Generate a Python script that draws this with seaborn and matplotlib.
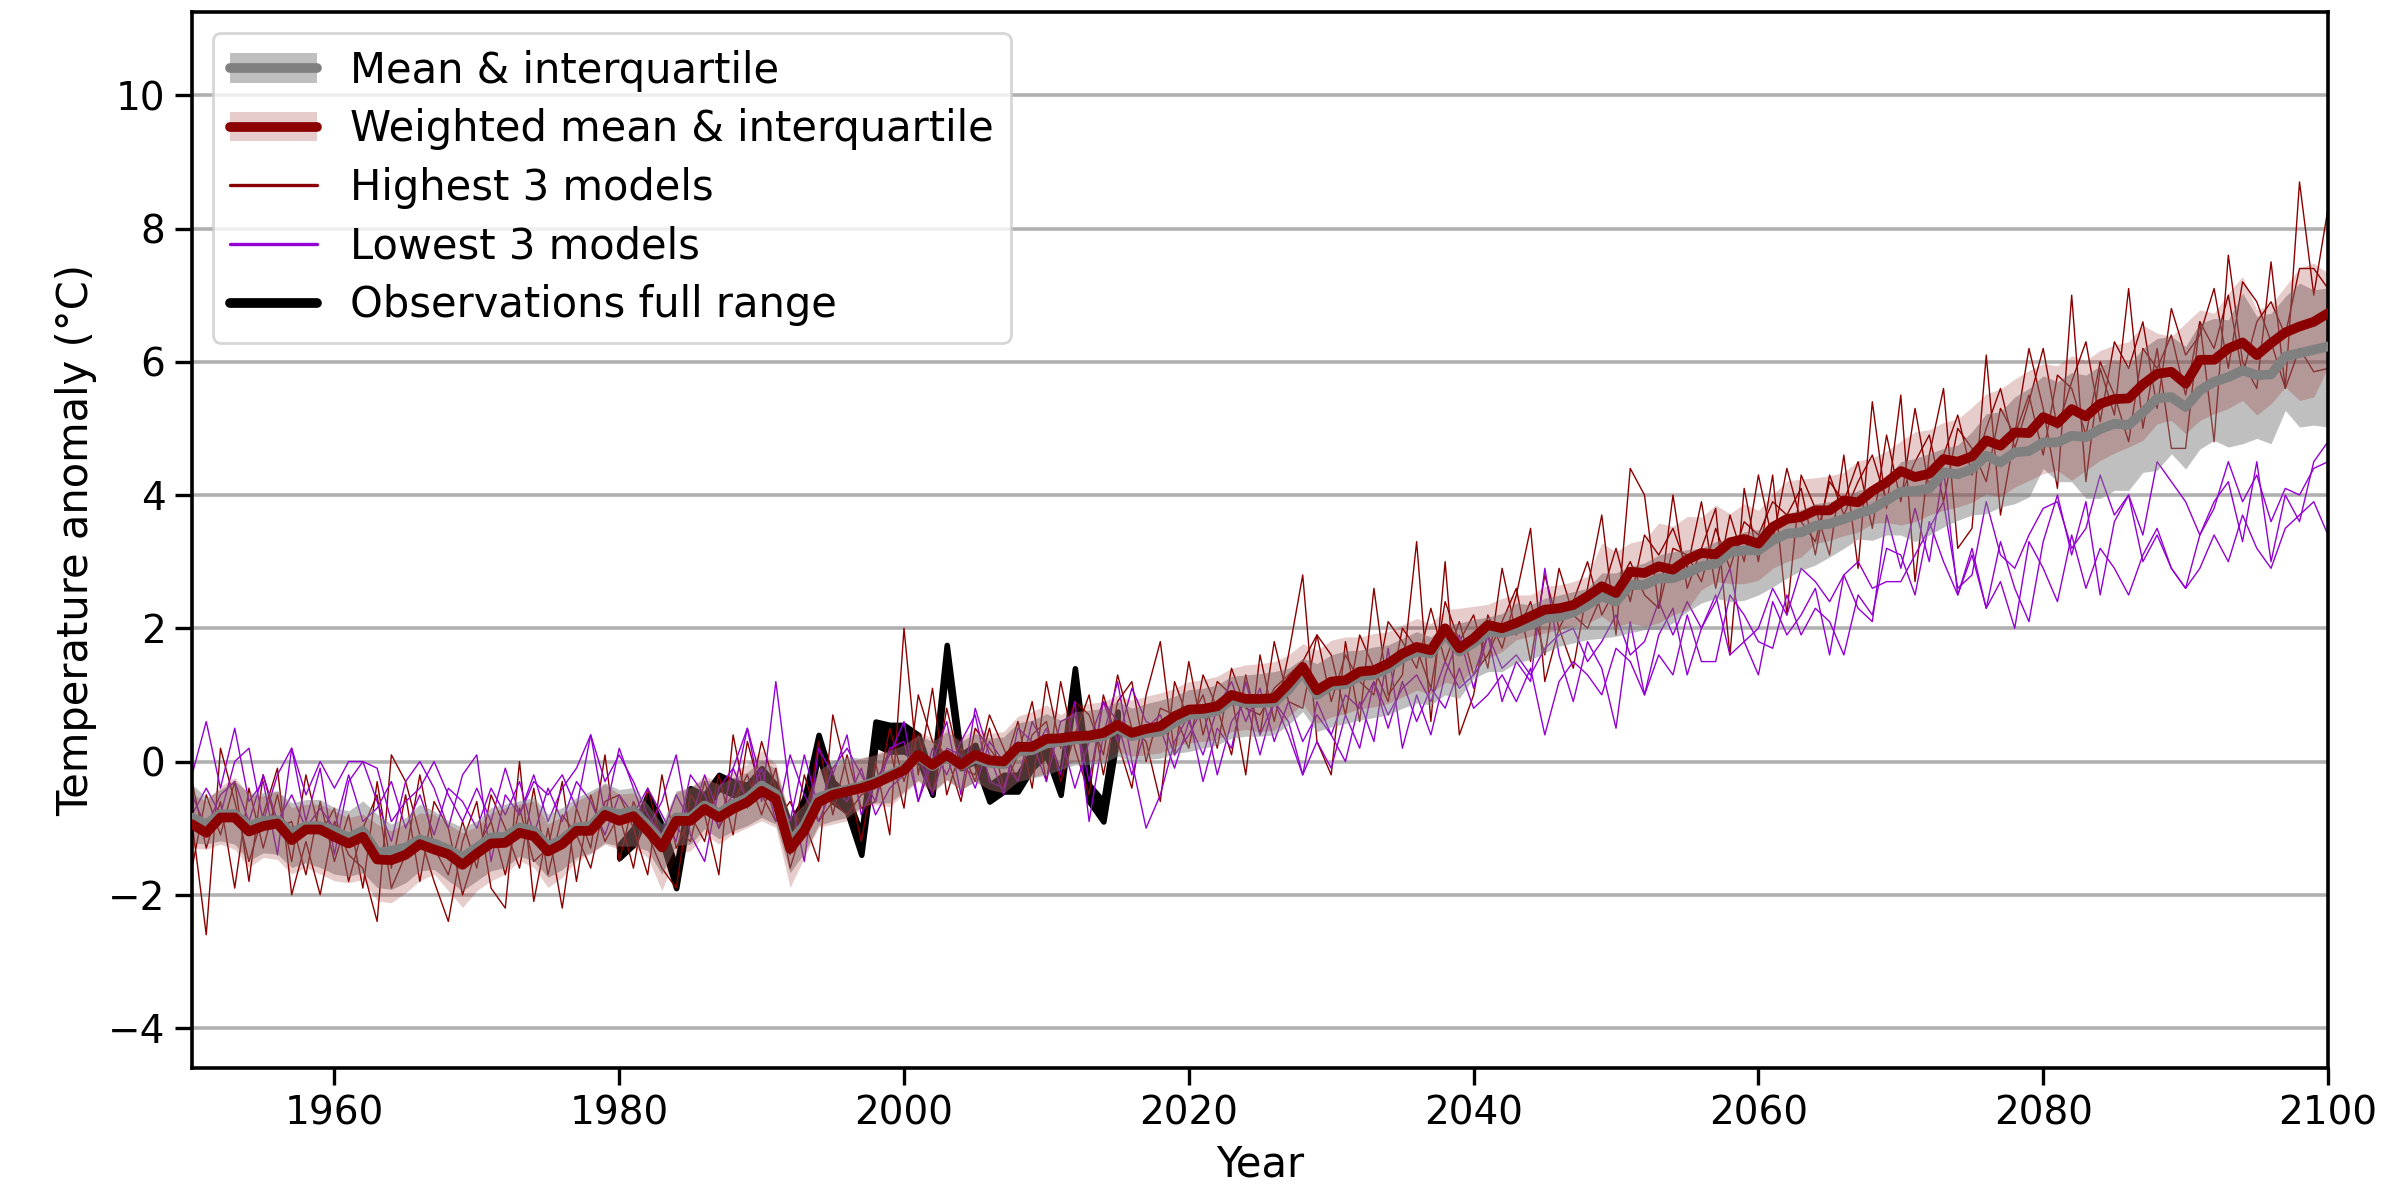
import numpy as np
import matplotlib
matplotlib.use("Agg")
import matplotlib.pyplot as plt
import seaborn as sns
from matplotlib.lines import Line2D
from matplotlib.patches import Patch

# =========================
# Data
# =========================
years = np.arange(1950, 2101)
obs_years = np.arange(1980, 2016)

# weighted multi-model mean and its interquartile range
wmean = [
    -0.94, -1.07, -0.84, -0.84, -1.05, -0.97, -0.93, -1.18, -1.02, -1.02,
    -1.13, -1.23, -1.13, -1.47, -1.48, -1.40, -1.24, -1.32, -1.39, -1.55,
    -1.38, -1.23, -1.22, -1.07, -1.12, -1.35, -1.24, -1.04, -1.04, -0.80,
    -0.89, -0.82, -1.04, -1.29, -0.89, -0.89, -0.71, -0.84, -0.71, -0.61,
    -0.44, -0.56, -1.31, -1.04, -0.61, -0.50, -0.45, -0.40, -0.33, -0.23,
    -0.13, 0.10, -0.05, 0.10, -0.05, 0.10, 0.02, 0.00, 0.22, 0.22,
    0.34, 0.35, 0.38, 0.39, 0.43, 0.55, 0.43, 0.49, 0.53, 0.68,
    0.78, 0.79, 0.83, 1.00, 0.94, 0.94, 0.95, 1.17, 1.42, 1.07,
    1.20, 1.22, 1.35, 1.37, 1.47, 1.62, 1.72, 1.67, 2.00, 1.70,
    1.85, 2.05, 2.00, 2.08, 2.18, 2.28, 2.30, 2.35, 2.48, 2.63,
    2.53, 2.85, 2.83, 2.93, 2.88, 3.03, 3.13, 3.11, 3.29, 3.34,
    3.27, 3.52, 3.64, 3.67, 3.77, 3.77, 3.92, 3.89, 4.06, 4.19,
    4.36, 4.27, 4.32, 4.54, 4.50, 4.58, 4.82, 4.74, 4.94, 4.93,
    5.17, 5.08, 5.29, 5.18, 5.37, 5.44, 5.45, 5.66, 5.82, 5.85,
    5.67, 6.03, 6.03, 6.20, 6.29, 6.10, 6.28, 6.44, 6.53, 6.60,
    6.73,
]
wq75 = [
    -0.49, -0.59, -0.37, -0.24, -0.49, -0.52, -0.44, -0.69, -0.64, -0.64,
    -0.74, -0.84, -0.79, -0.94, -1.04, -0.92, -0.77, -0.79, -0.94, -1.07,
    -0.97, -0.77, -0.69, -0.64, -0.59, -0.94, -0.82, -0.59, -0.49, -0.34,
    -0.49, -0.47, -0.69, -1.04, -0.46, -0.39, -0.21, -0.31, -0.16, -0.04,
    0.17, -0.04, -0.84, -0.59, -0.11, -0.06, -0.01, 0.05, 0.12, 0.20,
    0.28, 0.45, 0.35, 0.50, 0.35, 0.50, 0.42, 0.45, 0.68, 0.75,
    0.85, 0.70, 0.85, 0.87, 0.90, 1.00, 0.92, 0.98, 1.03, 1.10,
    1.20, 1.23, 1.28, 1.40, 1.45, 1.47, 1.50, 1.60, 1.77, 1.67,
    1.82, 1.87, 1.87, 1.92, 1.95, 2.05, 2.15, 2.07, 2.28, 2.30,
    2.33, 2.36, 2.45, 2.50, 2.50, 2.63, 2.65, 2.70, 2.78, 3.28,
    3.15, 3.28, 3.33, 3.58, 3.53, 3.68, 3.67, 3.85, 3.72, 3.87,
    3.77, 4.01, 4.21, 4.24, 4.26, 4.29, 4.34, 4.51, 4.56, 4.66,
    4.81, 4.95, 4.98, 5.09, 5.14, 5.32, 5.52, 5.59, 5.74, 5.87,
    5.97, 5.94, 6.09, 6.02, 6.17, 6.25, 6.30, 6.55, 6.43, 6.38,
    6.58, 6.78, 6.73, 7.03, 7.28, 6.78, 6.86, 7.13, 7.41, 7.48,
    7.33,
]
wq25 = [
    -1.29, -1.32, -1.24, -1.32, -1.59, -1.44, -1.47, -1.69, -1.59, -1.69,
    -1.79, -1.82, -1.77, -2.09, -2.12, -1.97, -1.79, -1.69, -1.94, -2.19,
    -1.94, -1.79, -1.69, -1.49, -1.59, -1.89, -1.74, -1.49, -1.39, -1.24,
    -1.32, -1.29, -1.44, -1.94, -1.39, -1.34, -1.09, -1.24, -1.09, -0.99,
    -0.89, -0.99, -1.89, -1.44, -0.99, -0.94, -0.89, -0.70, -0.65, -0.68,
    -0.48, -0.30, -0.48, -0.28, -0.43, -0.30, -0.43, -0.48, -0.30, -0.23,
    -0.18, -0.08, 0.00, 0.00, 0.03, 0.15, 0.08, 0.10, 0.13, 0.23,
    0.28, 0.30, 0.33, 0.45, 0.48, 0.45, 0.47, 0.67, 0.87, 0.57,
    0.67, 0.72, 0.79, 0.82, 0.87, 0.97, 1.07, 1.02, 1.19, 1.14,
    1.40, 1.55, 1.65, 1.83, 1.88, 1.93, 1.98, 2.03, 2.08, 2.18,
    2.03, 2.08, 2.03, 2.08, 2.20, 2.28, 2.58, 2.70, 2.67, 2.67,
    2.72, 2.90, 3.00, 3.07, 3.27, 3.32, 3.39, 3.44, 3.57, 3.59,
    3.55, 3.60, 3.70, 3.77, 3.82, 3.89, 4.02, 3.97, 4.12, 4.22,
    4.32, 4.37, 4.22, 4.37, 4.52, 4.63, 4.72, 4.82, 5.07, 5.12,
    4.92, 5.12, 5.22, 5.30, 5.42, 5.20, 5.37, 5.62, 5.42, 5.47,
    5.92,
]

# unweighted mean and its interquartile range
mean = [
    -0.84, -0.94, -0.79, -0.79, -0.97, -0.89, -0.88, -1.07, -0.97, -0.97,
    -1.04, -1.14, -1.04, -1.37, -1.34, -1.29, -1.17, -1.23, -1.32, -1.44,
    -1.29, -1.14, -1.13, -0.99, -1.04, -1.27, -1.17, -0.99, -0.97, -0.74,
    -0.79, -0.74, -0.96, -1.21, -0.84, -0.84, -0.66, -0.78, -0.64, -0.55,
    -0.36, -0.49, -1.21, -0.96, -0.54, -0.47, -0.42, -0.37, -0.30, -0.20,
    -0.10, 0.08, -0.07, 0.07, -0.06, 0.05, -0.02, -0.04, 0.15, 0.17,
    0.27, 0.30, 0.33, 0.35, 0.38, 0.50, 0.38, 0.43, 0.45, 0.58,
    0.70, 0.72, 0.76, 0.93, 0.88, 0.88, 0.89, 1.08, 1.35, 1.00,
    1.14, 1.16, 1.28, 1.30, 1.40, 1.55, 1.65, 1.62, 1.92, 1.65,
    1.78, 1.95, 1.93, 1.98, 2.05, 2.15, 2.17, 2.24, 2.35, 2.48,
    2.40, 2.65, 2.65, 2.75, 2.75, 2.83, 2.93, 2.97, 3.14, 3.17,
    3.17, 3.32, 3.42, 3.44, 3.54, 3.57, 3.64, 3.72, 3.79, 3.92,
    4.05, 4.06, 4.10, 4.34, 4.31, 4.39, 4.59, 4.49, 4.64, 4.66,
    4.79, 4.79, 4.89, 4.87, 4.99, 5.07, 5.05, 5.24, 5.45, 5.47,
    5.32, 5.57, 5.70, 5.77, 5.87, 5.80, 5.81, 6.08, 6.13, 6.18,
    6.23,
]
q75 = [
    -0.34, -0.54, -0.42, -0.29, -0.47, -0.47, -0.44, -0.62, -0.57, -0.57,
    -0.69, -0.74, -0.59, -0.79, -0.94, -0.84, -0.64, -0.74, -0.89, -0.99,
    -0.89, -0.69, -0.64, -0.59, -0.54, -0.79, -0.69, -0.54, -0.44, -0.32,
    -0.42, -0.39, -0.64, -0.94, -0.44, -0.39, -0.26, -0.34, -0.24, -0.16,
    0.02, -0.11, -0.84, -0.64, -0.14, 0.02, 0.07, 0.05, 0.10, 0.17,
    0.25, 0.40, 0.30, 0.45, 0.30, 0.42, 0.35, 0.37, 0.58, 0.62,
    0.72, 0.62, 0.75, 0.77, 0.80, 0.90, 0.80, 0.87, 0.92, 0.98,
    1.08, 1.10, 1.15, 1.28, 1.30, 1.32, 1.35, 1.40, 1.55, 1.47,
    1.60, 1.66, 1.67, 1.72, 1.75, 1.85, 1.95, 1.87, 2.05, 2.08,
    2.13, 2.17, 2.22, 2.38, 2.35, 2.45, 2.50, 2.55, 2.60, 2.83,
    2.83, 2.93, 2.98, 3.10, 3.15, 3.18, 3.20, 3.30, 3.35, 3.45,
    3.48, 3.58, 3.72, 3.78, 3.87, 3.90, 3.95, 4.07, 4.12, 4.25,
    4.50, 4.55, 4.62, 4.70, 4.75, 4.95, 5.22, 5.25, 5.47, 5.60,
    5.79, 5.70, 5.84, 5.80, 5.94, 6.02, 5.94, 6.20, 6.35, 6.38,
    6.23, 6.58, 6.65, 6.63, 7.03, 6.68, 6.73, 6.98, 7.18, 7.08,
    7.11,
]
q25 = [
    -1.22, -1.24, -1.19, -1.24, -1.49, -1.37, -1.39, -1.59, -1.52, -1.59,
    -1.69, -1.72, -1.67, -1.89, -1.92, -1.82, -1.64, -1.62, -1.79, -1.94,
    -1.79, -1.64, -1.59, -1.42, -1.49, -1.74, -1.62, -1.44, -1.37, -1.22,
    -1.27, -1.27, -1.34, -1.69, -1.26, -1.24, -1.01, -1.16, -1.04, -0.96,
    -0.84, -0.94, -1.67, -1.37, -0.96, -0.89, -0.84, -0.68, -0.62, -0.62,
    -0.45, -0.28, -0.45, -0.27, -0.42, -0.30, -0.42, -0.47, -0.30, -0.25,
    -0.20, -0.12, -0.05, -0.05, -0.02, 0.08, 0.00, 0.03, 0.05, 0.12,
    0.15, 0.20, 0.25, 0.35, 0.38, 0.38, 0.40, 0.55, 0.75, 0.45,
    0.52, 0.57, 0.62, 0.66, 0.70, 0.80, 0.88, 0.85, 1.00, 0.95,
    1.25, 1.35, 1.35, 1.48, 1.53, 1.63, 1.73, 1.78, 1.83, 1.85,
    1.88, 1.93, 1.98, 1.98, 2.08, 2.25, 2.38, 2.45, 2.40, 2.42,
    2.50, 2.62, 2.75, 2.87, 2.95, 3.07, 3.20, 3.34, 3.32, 3.40,
    3.40, 3.30, 3.40, 3.52, 3.62, 3.70, 3.72, 3.82, 3.87, 3.97,
    4.40, 4.20, 4.20, 3.95, 3.95, 4.07, 4.07, 4.34, 4.37, 4.62,
    4.39, 4.69, 4.82, 4.72, 4.77, 4.85, 4.77, 5.27, 5.02, 5.05,
    5.02,
]

# three warmest models
high_1 = [
    -0.9, -2.6, 0.2, -0.6, -1.5, -0.8, -0.1, -2.0, -1.2, -2.0,
    -0.9, -1.4, -1.6, -2.4, 0.1, -0.3, -1.1, -1.8, -2.4, -1.2,
    -0.6, -1.9, -2.2, 0.0, -2.1, -1.0, -2.2, -0.7, -1.3, 0.1,
    -1.5, -0.6, -1.1, -1.6, -1.9, -0.5, -0.8, -1.7, 0.4, -0.7,
    0.3, -0.4, -1.6, -0.9, -1.5, 0.7, -0.2, -1.2, 0.0, -1.1,
    2.0, -0.2, 1.1, -0.5, 0.2, -0.3, 0.5, -0.4, 0.1, 0.9,
    -0.3, 1.2, 0.2, -0.5, 1.0, 0.3, -0.4, 1.0, 1.8, 0.1,
    1.5, 0.4, 1.2, 1.0, -0.2, 1.6, 0.6, 1.6, 2.8, 0.3,
    -0.2, 1.8, 0.6, 2.6, 1.0, 1.3, 3.3, 0.6, 3.0, 0.4,
    1.0, 2.2, 1.7, 2.5, 3.5, 1.2, 2.0, 1.4, 2.6, 3.7,
    1.9, 4.4, 4.0, 2.3, 4.0, 2.6, 3.2, 3.8, 1.6, 4.1,
    3.0, 4.3, 2.2, 4.3, 3.8, 3.1, 4.6, 2.9, 5.4, 3.8,
    5.5, 2.7, 4.6, 5.6, 3.2, 3.5, 6.1, 3.7, 4.9, 6.2,
    5.3, 4.1, 7.0, 4.2, 5.9, 5.2, 7.1, 5.0, 6.2, 4.7,
    4.7, 6.6, 4.8, 7.6, 6.0, 5.6, 7.5, 5.6, 8.7, 7.0,
    8.3,
]
high_2 = [
    -1.6, -0.5, -1.1, -0.3, -1.8, -0.2, -1.0, -0.9, -1.7, -0.6,
    -1.5, -0.8, -1.9, -0.3, -1.6, -0.5, -1.8, -0.6, -1.0, -2.0,
    -1.3, -0.9, -1.7, -0.7, -1.5, -1.3, -0.3, -1.8, -0.5, -1.2,
    -0.8, -1.6, -0.4, -1.2, -1.0, -1.2, -0.3, -1.0, -0.6, -0.2,
    -0.8, -0.1, -1.4, -0.2, -0.9, -0.6, -0.8, -0.5, -0.4, 0.2,
    -0.7, 1.0, 0.3, 0.1, -0.6, 0.5, 0.2, -0.1, 0.6, -0.4,
    1.2, 0.2, 0.9, 0.7, 0.1, 1.3, 0.5, 0.3, -0.6, 1.2,
    0.6, 1.0, 0.2, 1.4, 0.8, 0.7, 1.1, 1.3, 1.5, 1.9,
    0.9, 1.6, 1.2, 1.0, 2.1, 1.8, 1.4, 2.3, 1.5, 2.1,
    1.3, 1.6, 2.1, 2.6, 1.5, 2.8, 2.0, 2.4, 3.0, 2.2,
    2.6, 3.0, 2.5, 2.3, 3.2, 3.1, 2.7, 3.5, 2.9, 3.6,
    3.4, 3.9, 3.7, 4.1, 3.1, 4.3, 3.7, 4.2, 4.6, 3.9,
    4.0, 4.5, 4.9, 3.9, 5.0, 4.7, 4.2, 5.3, 4.9, 5.5,
    4.6, 5.8, 5.6, 4.9, 6.0, 5.5, 4.8, 6.2, 5.9, 6.4,
    5.5, 6.6, 6.2, 7.0, 5.8, 6.6, 6.9, 6.4, 7.4, 7.4,
    7.1,
]
high_3 = [
    -0.3, -1.3, -0.6, -1.9, -0.4, -1.3, -0.5, -1.5, -0.2, -1.1,
    -0.7, -1.8, -1.0, -0.5, -1.9, -1.4, -0.2, -1.3, -1.7, -0.9,
    -1.6, -0.5, -1.0, -1.6, -0.4, -1.7, -0.8, -1.1, -1.6, -0.6,
    -0.5, -1.0, -1.7, -0.2, -1.3, -0.8, -1.2, -0.2, -1.1, 0.3,
    -0.5, -0.9, -0.6, -1.1, 0.3, -0.8, 0.1, -0.7, -0.6, 0.5,
    -0.3, 0.4, -0.5, 0.8, -0.1, -0.2, 0.7, 0.2, -0.3, 0.4,
    0.6, -0.3, 0.4, 1.0, -0.2, 0.9, 1.2, 0.0, 0.8, 0.7,
    0.2, 1.3, 0.8, 0.1, 1.3, 0.4, 1.8, 0.9, 0.8, 1.9,
    1.6, 0.7, 1.9, 1.4, 0.9, 2.0, 1.7, 1.1, 2.4, 1.8,
    2.2, 1.4, 2.9, 1.9, 2.4, 1.6, 2.9, 2.2, 2.0, 2.5,
    3.2, 2.4, 3.4, 3.1, 3.5, 2.9, 3.9, 2.6, 3.7, 3.0,
    4.3, 3.3, 4.4, 3.6, 3.3, 4.2, 3.9, 4.5, 3.5, 4.9,
    3.9, 5.3, 4.1, 4.6, 5.2, 4.3, 5.0, 5.6, 4.7, 5.4,
    6.2, 5.0, 5.7, 6.3, 5.1, 6.3, 5.9, 6.6, 5.3, 6.8,
    6.1, 6.4, 7.1, 5.9, 7.2, 6.9, 6.3, 5.6, 6.2, 5.85,
    5.9,
]

# three coolest models
low_1 = [
    -0.2, 0.6, -0.4, 0.5, -0.6, -0.3, -1.4, 0.2, -0.9, -0.1,
    -1.4, -0.3, 0.0, -0.6, -1.2, -0.3, 0.0, -0.4, -1.0, -0.2,
    0.1, -1.5, -0.5, -0.8, -0.2, -0.9, -0.4, -0.1, 0.4, -0.8,
    0.2, -0.4, -1.0, -0.6, 0.1, -1.1, -1.5, -0.4, -0.1, 0.5,
    -0.6, 1.2, -0.5, -1.5, 0.2, -0.2, 0.4, -0.8, -0.3, 0.1,
    0.6, -0.6, 0.2, -0.2, 0.3, 0.7, -0.3, -0.4, 0.3, 0.1,
    0.5, -0.2, 0.9, -0.9, 0.4, 1.2, 0.0, -1.0, -0.5, 0.3,
    0.7, -0.3, 0.5, 0.2, 1.2, 0.4, 0.9, 0.6, -0.2, 0.9,
    0.4, 0.0, 0.9, 0.3, 1.7, 0.2, 1.0, 0.4, 1.3, 1.9,
    1.1, 1.9, 0.9, 1.5, 1.2, 2.9, 1.6, 0.9, 1.8, 1.4,
    0.5, 2.1, 1.0, 1.9, 2.3, 1.3, 2.0, 2.5, 1.6, 1.8,
    1.3, 2.4, 1.9, 2.2, 2.6, 1.6, 2.8, 2.3, 2.1, 3.7,
    2.9, 3.8, 3.0, 4.4, 2.5, 3.1, 2.3, 3.3, 2.6, 2.1,
    3.3, 4.0, 3.1, 3.9, 2.5, 3.6, 4.0, 3.0, 3.4, 2.9,
    2.6, 3.4, 3.9, 4.2, 3.3, 4.5, 3.0, 4.0, 3.6, 4.5,
    4.8,
]
low_2 = [
    -0.8, -0.4, -0.8, 0.0, 0.2, -0.9, -0.2, 0.2, -0.5, 0.0,
    -0.4, 0.0, 0.0, -0.1, -0.9, -0.6, -0.4, 0.0, -0.5, -0.9,
    -0.4, -0.9, -0.1, -0.8, -0.3, -0.5, -0.2, -0.7, 0.4, -0.3,
    0.1, -0.3, -0.8, -1.1, -0.5, -0.9, -0.2, -0.8, -0.5, 0.5,
    -0.3, -0.5, -0.9, 0.1, -0.7, -0.1, 0.2, -0.2, -0.6, 0.2,
    0.3, -0.6, 0.0, 0.6, -0.5, 0.8, 0.1, -0.5, 0.5, 0.3,
    -0.3, 0.6, 0.7, -0.3, 0.9, 0.3, 1.1, 0.6, 0.5, -0.1,
    0.6, 0.1, 0.8, 1.2, 0.6, 1.1, 0.3, 0.9, 0.3, 0.7,
    0.4, 1.0, 0.8, 1.2, 0.7, 1.1, 1.3, 0.9, 1.5, 1.1,
    1.3, 1.9, 1.4, 1.6, 1.3, 1.7, 1.9, 2.0, 1.5, 1.8,
    2.2, 1.6, 1.8, 2.4, 1.9, 2.4, 2.0, 2.4, 2.9, 1.8,
    2.0, 2.6, 2.2, 2.9, 2.7, 2.4, 2.8, 3.0, 2.6, 2.7,
    2.7, 3.1, 3.5, 3.9, 2.6, 2.8, 3.9, 3.1, 2.9, 3.4,
    3.8, 3.9, 3.2, 3.5, 4.3, 3.7, 4.0, 3.4, 4.5, 4.2,
    3.9, 3.4, 3.8, 4.5, 3.9, 4.3, 3.6, 4.1, 4.0, 4.4,
    4.5,
]
low_3 = [
    -0.5, -1.0, -0.5, -0.3, -0.9, -0.2, -0.9, -0.5, -1.0, -0.7,
    -1.0, -0.2, -0.9, -0.7, -0.3, -1.0, -0.5, -1.1, -0.4, -0.6,
    -1.0, -0.4, -0.8, -0.3, -1.1, -0.4, -0.9, -0.3, -0.6, -1.1,
    -0.5, -0.8, -0.4, -0.8, -1.2, -0.2, -0.5, -1.0, -0.1, -0.6,
    -0.1, -0.9, 0.1, -0.5, -0.9, -0.4, -0.6, -0.1, -0.8, -0.4,
    -0.2, 0.1, -0.5, 0.2, 0.1, -0.4, 0.3, 0.0, -0.3, 0.6,
    0.2, 0.4, -0.4, 0.3, 0.9, 0.6, -0.2, 0.5, 0.7, 0.1,
    0.4, 0.8, -0.2, 0.6, 0.9, 0.1, 0.9, 0.4, -0.2, 0.3,
    -0.1, 0.7, 0.2, 1.2, 0.5, 1.2, 0.6, 1.1, 0.8, 1.4,
    0.8, 1.0, 1.3, 0.9, 1.4, 0.4, 1.2, 1.5, 1.3, 1.0,
    1.7, 1.5, 1.0, 1.6, 1.3, 2.2, 1.5, 1.5, 2.5, 2.2,
    1.8, 1.7, 2.5, 1.9, 2.3, 2.1, 1.6, 2.5, 2.2, 3.2,
    3.1, 2.5, 3.6, 3.0, 2.5, 3.2, 2.3, 2.7, 2.0, 3.3,
    2.9, 2.4, 3.4, 2.6, 3.2, 2.9, 2.5, 3.1, 3.5, 2.9,
    2.6, 2.9, 3.4, 3.0, 3.7, 3.2, 2.9, 3.5, 3.7, 3.9,
    3.4,
]

# observations: lowest and highest of the observational datasets
obs_low = [
    -1.45, -1.25, -0.75, -1.20, -1.90, -0.65, -0.75, -0.40, -0.50, -0.60,
    -0.35, -0.60, -1.25, -0.85, 0.10, -0.60, -0.75, -1.40, 0.25, 0.15,
    0.15, 0.05, -0.50, 1.45, -0.10, 0.00, -0.60, -0.45, -0.45, -0.10,
    0.10, -0.50, 1.10, -0.60, -0.90, 0.40,
]
obs_high = [
    -1.25, -1.00, -0.50, -0.95, -1.60, -0.40, -0.50, -0.20, -0.30, -0.35,
    -0.10, -0.35, -0.95, -0.55, 0.40, -0.30, -0.50, -1.10, 0.60, 0.55,
    0.55, 0.40, -0.25, 1.75, 0.10, 0.25, -0.35, -0.20, -0.20, 0.15,
    0.35, -0.25, 1.40, -0.35, -0.60, 0.75,
]

high_models = [high_1, high_2, high_3]
low_models = [low_1, low_2, low_3]

# =========================
# Style
# =========================
sns.set_style("ticks")
plt.rcParams["font.family"] = ["DejaVu Sans"]
plt.rcParams["text.color"] = "black"
plt.rcParams["axes.labelcolor"] = "black"

fig, ax = plt.subplots(figsize=(12, 6), dpi=200)
fig.subplots_adjust(left=0.08, right=0.97, bottom=0.11, top=0.99)

# =========================
# Plot
# =========================
ax.fill_between(obs_years, obs_low, obs_high, facecolor="black",
                edgecolor="black", lw=2.0, zorder=1.9)

for series in high_models:
    sns.lineplot(x=years, y=series, ax=ax, color="darkred", lw=0.5, zorder=2)
for series in low_models:
    sns.lineplot(x=years, y=series, ax=ax, color="darkviolet", lw=0.5, zorder=2)

# bands sit over the model lines and the observations
ax.fill_between(years, q25, q75, color="gray", alpha=0.5, lw=0, zorder=2.1)
ax.fill_between(years, wq25, wq75, color="darkred", alpha=0.2, lw=0, zorder=2.2)

sns.lineplot(x=years, y=mean, ax=ax, color="gray", lw=3.5, zorder=3)
sns.lineplot(x=years, y=wmean, ax=ax, color="darkred", lw=3.5, zorder=3.1)

# =========================
# Axes
# =========================
ax.set_xlim(1950, 2100)
ax.set_ylim(-4.6, 11.25)
ax.set_xticks(np.arange(1960, 2101, 20))
ax.set_yticks(np.arange(-4, 11, 2))

ax.set_axisbelow("line")
ax.yaxis.grid(True, color="#b0b0b0", lw=1.3)
ax.xaxis.grid(False)

for spine in ax.spines.values():
    spine.set_visible(True)
    spine.set_color("black")
    spine.set_linewidth(1.3)

ax.tick_params(direction="out", length=6, width=1.2, labelsize=14,
               top=False, right=False, colors="black")

ax.set_xlabel("Year", fontsize=15)
ax.set_ylabel("Temperature anomaly (°C)", fontsize=15)

# =========================
# Legend
# =========================
handles = [
    (Patch(facecolor="gray", alpha=0.5, edgecolor="none"),
     Line2D([], [], color="gray", lw=3.5)),
    (Patch(facecolor="darkred", alpha=0.2, edgecolor="none"),
     Line2D([], [], color="darkred", lw=3.5)),
    Line2D([], [], color="darkred", lw=1.2),
    Line2D([], [], color="darkviolet", lw=1.2),
    Line2D([], [], color="black", lw=3.5),
]
labels = [
    "Mean & interquartile",
    "Weighted mean & interquartile",
    "Highest 3 models",
    "Lowest 3 models",
    "Observations full range",
]
leg = ax.legend(handles, labels, loc="upper left", fontsize=15,
                handlelength=2.1, labelspacing=0.4,
                framealpha=0.8, edgecolor="0.8", fancybox=True)
leg.set_zorder(5)

fig.savefig("out.png", dpi=200)
